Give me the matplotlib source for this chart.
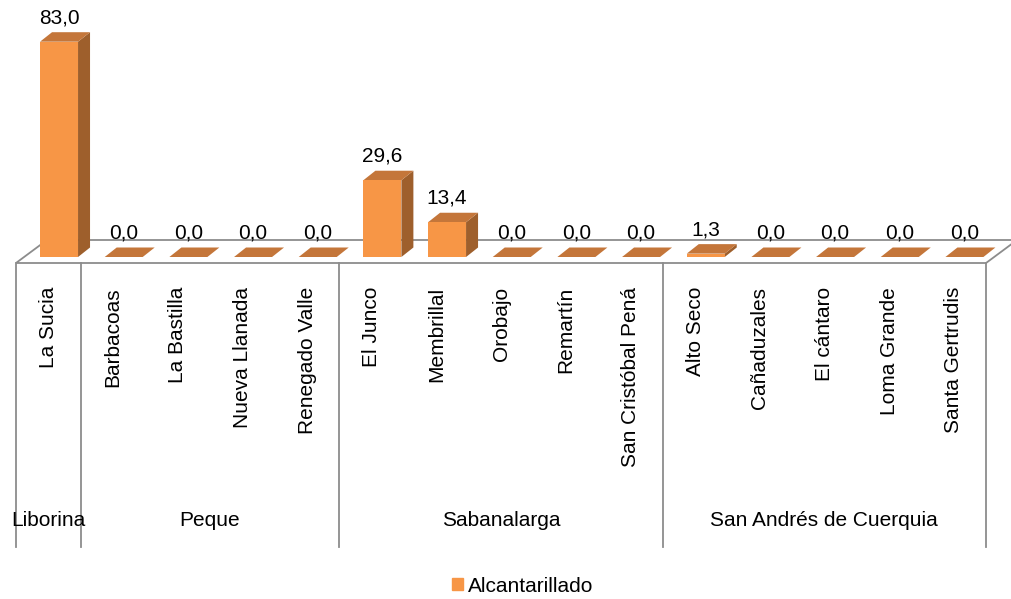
import matplotlib.pyplot as plt
from matplotlib.patches import Polygon, Patch

plt.rcParams['font.family'] = ['Liberation Sans', 'DejaVu Sans']

# Data
groups = ['Liborina', 'Peque', 'Sabanalarga', 'San Andrés de Cuerquia']
group_sizes = [1, 4, 5, 5]
veredas = ['La Sucia', 'Barbacoas', 'La Bastilla', 'Nueva Llanada', 'Renegado Valle',
           'El Junco', 'Membrillal', 'Orobajo', 'Remartín', 'San Cristóbal Pená',
           'Alto Seco', 'Cañaduzales', 'El cántaro', 'Loma Grande', 'Santa Gertrudis']
alcantarillado = [83.0, 0.0, 0.0, 0.0, 0.0,
                  29.6, 13.4, 0.0, 0.0, 0.0,
                  1.3, 0.0, 0.0, 0.0, 0.0]
series_name = 'Alcantarillado'

# Colors
front_c = '#F79646'
top_c = '#C4763A'
side_c = '#9E5F2C'
line_c = '#8C8C8C'

# pixel scale of the picture (used to convert 3D offsets)
W, H = 1011, 599
px_cat = 64.67    # px per category
px_val = 2.594    # px per value unit
x0_px = 16        # left edge of axis
base_px = 257     # px row of bar base

def dx(px):
    return px / px_cat

def dy(px):
    return px / px_val

fig = plt.figure(figsize=(W / 100, H / 100), dpi=100)
ax = fig.add_axes([0, 0, 1, 1])
ax.set_xlim(-0.5 - dx(x0_px), -0.5 + dx(W - x0_px))
ax.set_ylim(dy(base_px - H), dy(base_px))
ax.axis('off')

n = len(veredas)

# floor
fl_front = dy(-6)
fl_back = dy(17)
fl_shift = dx(31)
floor = Polygon([(-0.5, fl_front), (n - 0.5, fl_front),
                 (n - 0.5 + fl_shift, fl_back), (-0.5 + fl_shift, fl_back)],
                closed=True, facecolor='white', edgecolor=line_c, lw=1.3, zorder=1)
ax.add_patch(floor)

# 3D bars
off = dx(-8.3)
bw = dx(38)
ddx = dx(12)
ddy = dy(9.5)
for i, v in enumerate(alcantarillado):
    xl = i + off
    xr = xl + bw
    side = Polygon([(xr, 0), (xr + ddx, ddy), (xr + ddx, v + ddy), (xr, v)],
                   closed=True, facecolor=side_c, edgecolor='none', zorder=3)
    top = Polygon([(xl, v), (xr, v), (xr + ddx, v + ddy), (xl + ddx, v + ddy)],
                  closed=True, facecolor=top_c, edgecolor='none', zorder=3)
    ax.add_patch(side)
    ax.add_patch(top)
    if v > 0:
        ax.bar(xl, v, width=bw, align='edge', color=front_c, zorder=3)
    ax.text(xl + bw / 2, v + ddy + dy(5), f'{v:.1f}'.replace('.', ','),
            ha='center', va='bottom', fontsize=15, zorder=4)

# category labels
for i, name in enumerate(veredas):
    ax.text(i, dy(-30), name, rotation=90, ha='center', va='top', fontsize=15)

# group separators and labels
line_bottom = dy(base_px - 547)
start = 0
bounds = [0]
for s in group_sizes:
    bounds.append(bounds[-1] + s)
for b in bounds:
    ax.plot([b - 0.5, b - 0.5], [fl_front, line_bottom], color=line_c, lw=1.3, zorder=2)
for g, s in zip(groups, group_sizes):
    ax.text(start + s / 2 - 0.5, dy(base_px - 521), g, ha='center', va='center', fontsize=15)
    start += s

# legend
ax.legend(handles=[Patch(color=front_c, label=series_name)], loc='center',
          bbox_to_anchor=(523 / W, 1 - 586 / H), frameon=False, fontsize=15,
          handlelength=0.5, handleheight=0.5, handletextpad=0.25)

plt.savefig('out.png', dpi=100)
